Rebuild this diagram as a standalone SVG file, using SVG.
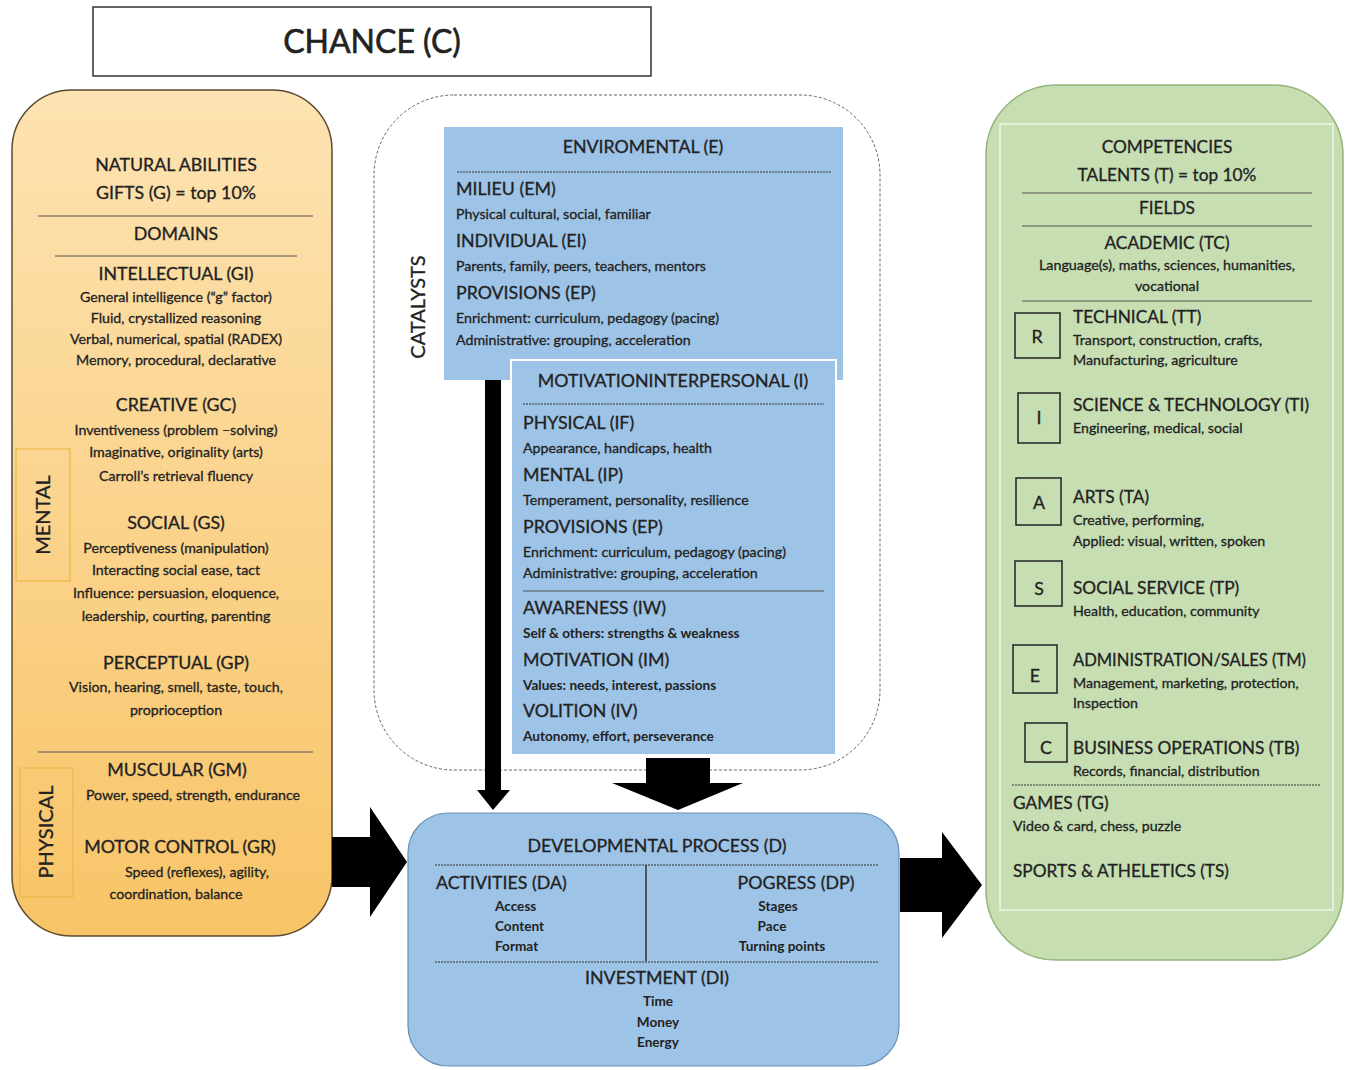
<svg xmlns="http://www.w3.org/2000/svg" width="1348" height="1070" viewBox="0 0 1348 1070">
<defs>
<linearGradient id="gOrange" x1="0" y1="0" x2="0" y2="1">
<stop offset="0" stop-color="#FDE3B2"/>
<stop offset="1" stop-color="#F8C467"/>
</linearGradient>
<style>
text{font-family:Lato,"Open Sans","Liberation Sans",sans-serif;fill:#222;stroke:#222;stroke-width:0.3}
.h{font-size:17.8px}
.hr{font-size:17.3px}
.s{font-size:14.2px}
.xs{font-size:14.2px}
.xb{font-size:13.6px;font-weight:bold;stroke-width:0}
.b{font-weight:bold;stroke-width:0}
.c{text-anchor:middle}
.rule{stroke:#555;stroke-width:1;fill:none}
.dash{stroke:#333;stroke-width:1.2;stroke-dasharray:2 1;fill:none}
.blue{fill:#9DC3E6}
.letter{fill:none;stroke:#222;stroke-width:1.5}
.arrow{fill:#000}
</style>
</defs>
<rect width="1348" height="1070" fill="#fff"/>

<g id="chance">
<rect x="93" y="7" width="558" height="69" fill="#fff" stroke="#333" stroke-width="1.5"/>
<text x="372" y="53" class="c" style="font-size:32px;stroke-width:0.6">CHANCE (C)</text>
</g>

<g id="gifts">
<rect x="12" y="90" width="320" height="846" rx="60" ry="60" fill="url(#gOrange)" stroke="#5a4a30" stroke-width="1.5"/>
<text x="176" y="171" class="h c">NATURAL ABILITIES</text>
<text x="176" y="199" class="h c">GIFTS (G) = top 10%</text>
<line x1="38" y1="216" x2="313" y2="216" class="rule"/>
<text x="176" y="240" class="h c">DOMAINS</text>
<line x1="55" y1="256" x2="297" y2="256" class="rule"/>
<text x="176" y="280" class="h c">INTELLECTUAL (GI)</text>
<text x="176" y="302" class="s c">General intelligence (“g” factor)</text>
<text x="176" y="323" class="s c">Fluid, crystallized reasoning</text>
<text x="176" y="344" class="s c">Verbal, numerical, spatial (RADEX)</text>
<text x="176" y="365" class="s c">Memory, procedural, declarative</text>
<text x="176" y="411" class="h c">CREATIVE (GC)</text>
<text x="176" y="435" class="s c">Inventiveness (problem –solving)</text>
<text x="176" y="457" class="s c">Imaginative, originality (arts)</text>
<text x="176" y="481" class="s c">Carroll’s retrieval fluency</text>
<text x="176" y="529" class="h c">SOCIAL (GS)</text>
<text x="176" y="553" class="s c">Perceptiveness (manipulation)</text>
<text x="176" y="575" class="s c">Interacting social ease, tact</text>
<text x="176" y="598" class="s c">Influence: persuasion, eloquence,</text>
<text x="176" y="621" class="s c">leadership, courting, parenting</text>
<text x="176" y="669" class="h c">PERCEPTUAL (GP)</text>
<text x="176" y="692" class="s c">Vision, hearing, smell, taste, touch,</text>
<text x="176" y="715" class="s c">proprioception</text>
<line x1="38" y1="752" x2="313" y2="752" class="rule"/>
<text x="177" y="776" class="h c">MUSCULAR (GM)</text>
<text x="193" y="800" class="s c">Power, speed, strength, endurance</text>
<text x="180" y="853" class="h c">MOTOR CONTROL (GR)</text>
<text x="197" y="877" class="s c">Speed (reflexes), agility,</text>
<text x="176" y="899" class="s c">coordination, balance</text>
<rect x="16" y="449" width="54" height="132" fill="none" stroke="#E9B949" stroke-width="1.2"/>
<text transform="translate(50,515) rotate(-90)" class="c" style="font-size:20px">MENTAL</text>
<rect x="20" y="768" width="53" height="129" fill="none" stroke="#E9B949" stroke-width="1.2"/>
<text transform="translate(53,832) rotate(-90)" class="c" style="font-size:20px">PHYSICAL</text>
</g>

<g id="catalysts">
<rect x="374" y="95" width="506" height="675" rx="80" ry="80" fill="#fff" stroke="#666" stroke-width="1" stroke-dasharray="3 2"/>
<text transform="translate(425,307) rotate(-90)" class="c" style="font-size:20px">CATALYSTS</text>
</g>

<g id="environmental">
<rect x="444" y="127" width="399" height="253" class="blue"/>
<text x="643" y="153" class="h c">ENVIROMENTAL (E)</text>
<line x1="457" y1="172" x2="831" y2="172" class="dash"/>
<text x="456" y="195" class="h">MILIEU (EM)</text>
<text x="456" y="219" class="xs">Physical cultural, social, familiar</text>
<text x="456" y="247" class="h">INDIVIDUAL (EI)</text>
<text x="456" y="271" class="xs">Parents, family, peers, teachers, mentors</text>
<text x="456" y="299" class="h">PROVISIONS (EP)</text>
<text x="456" y="323" class="xs">Enrichment: curriculum, pedagogy (pacing)</text>
<text x="456" y="345" class="xs">Administrative: grouping, acceleration</text>
</g>

<g id="interpersonal">
<rect x="511" y="360" width="325" height="395" class="blue" stroke="#fff" stroke-width="2"/>
<text x="673" y="387" class="h c">MOTIVATIONINTERPERSONAL (I)</text>
<line x1="523" y1="404" x2="824" y2="404" class="dash"/>
<text x="523" y="429" class="h">PHYSICAL (IF)</text>
<text x="523" y="453" class="xs">Appearance, handicaps, health</text>
<text x="523" y="481" class="h">MENTAL (IP)</text>
<text x="523" y="505" class="xs">Temperament, personality, resilience</text>
<text x="523" y="533" class="h">PROVISIONS (EP)</text>
<text x="523" y="557" class="xs">Enrichment: curriculum, pedagogy (pacing)</text>
<text x="523" y="578" class="xs">Administrative: grouping, acceleration</text>
<line x1="523" y1="591" x2="824" y2="591" class="rule"/>
<text x="523" y="614" class="h">AWARENESS (IW)</text>
<text x="523" y="638" class="xb">Self &amp; others: strengths &amp; weakness</text>
<text x="523" y="666" class="h">MOTIVATION (IM)</text>
<text x="523" y="690" class="xb">Values: needs, interest, passions</text>
<text x="523" y="717" class="h">VOLITION (IV)</text>
<text x="523" y="741" class="xb">Autonomy, effort, perseverance</text>
</g>

<g id="connectors">
<path class="arrow" d="M485,380 H501 V790 H510 L493,810 L477,790 H485 Z"/>
<path class="arrow" d="M646,758 H710 V783 H743 L678,810 L612,783 H646 Z"/>
<path class="arrow" d="M332,837 H370 V807 L407,862 L370,917 V887 H332 Z"/>
<path class="arrow" d="M900,858 H942 V832 L982,885 L942,938 V912 H900 Z"/>
</g>

<g id="developmental">
<rect x="408" y="813" width="491" height="253" rx="40" ry="40" class="blue" stroke="#6a8fb8" stroke-width="1.2"/>
<text x="657" y="852" class="h c">DEVELOPMENTAL PROCESS (D)</text>
<line x1="435" y1="865" x2="879" y2="865" class="dash"/>
<line x1="646" y1="865" x2="646" y2="961" stroke="#333" stroke-width="1.5"/>
<text x="436" y="889" class="h">ACTIVITIES (DA)</text>
<text x="495" y="911" class="xb">Access</text>
<text x="495" y="931" class="xb">Content</text>
<text x="495" y="951" class="xb">Format</text>
<text x="796" y="889" class="h c">POGRESS (DP)</text>
<text x="778" y="911" class="xb c">Stages</text>
<text x="772" y="931" class="xb c">Pace</text>
<text x="782" y="951" class="xb c">Turning points</text>
<line x1="435" y1="962" x2="879" y2="962" class="dash"/>
<text x="657" y="984" class="h c">INVESTMENT (DI)</text>
<text x="658" y="1006" class="xb c">Time</text>
<text x="658" y="1027" class="xb c">Money</text>
<text x="658" y="1047" class="xb c">Energy</text>
</g>

<g id="talents">
<rect x="986" y="85" width="357" height="875" rx="70" ry="70" fill="#C6DEB2" stroke="#93B57A" stroke-width="1.5"/>
<rect x="1000" y="124" width="333" height="786" fill="none" stroke="#EEF5E8" stroke-width="1.5"/>
<text x="1167" y="153" class="hr c">COMPETENCIES</text>
<text x="1167" y="181" class="hr c">TALENTS (T) = top 10%</text>
<line x1="1022" y1="193" x2="1312" y2="193" class="rule"/>
<text x="1167" y="214" class="hr c">FIELDS</text>
<line x1="1022" y1="226" x2="1312" y2="226" class="rule"/>
<text x="1167" y="249" class="hr c">ACADEMIC (TC)</text>
<text x="1167" y="270" class="xs c" textLength="256" lengthAdjust="spacingAndGlyphs">Language(s), maths, sciences, humanities,</text>
<text x="1167" y="291" class="xs c">vocational</text>
<line x1="1022" y1="301" x2="1312" y2="301" class="rule"/>

<rect x="1015" y="313" width="45" height="45" class="letter"/>
<text x="1037" y="343" class="h c">R</text>
<text x="1073" y="323" class="hr">TECHNICAL (TT)</text>
<text x="1073" y="345" class="xs">Transport, construction, crafts,</text>
<text x="1073" y="365" class="xs">Manufacturing, agriculture</text>

<rect x="1018" y="393" width="42" height="50" class="letter"/>
<text x="1039" y="424" class="h c">I</text>
<text x="1073" y="411" class="hr">SCIENCE &amp; TECHNOLOGY (TI)</text>
<text x="1073" y="433" class="xs">Engineering, medical, social</text>

<rect x="1016" y="478" width="45" height="47" class="letter"/>
<text x="1039" y="509" class="h c">A</text>
<text x="1073" y="503" class="hr">ARTS (TA)</text>
<text x="1073" y="525" class="xs">Creative, performing,</text>
<text x="1073" y="546" class="xs">Applied: visual, written, spoken</text>

<rect x="1015" y="561" width="47" height="45" class="letter"/>
<text x="1039" y="595" class="h c">S</text>
<text x="1073" y="594" class="hr">SOCIAL SERVICE (TP)</text>
<text x="1073" y="616" class="xs">Health, education, community</text>

<rect x="1013" y="645" width="44" height="48" class="letter"/>
<text x="1035" y="682" class="h c">E</text>
<text x="1073" y="666" class="hr" textLength="233" lengthAdjust="spacingAndGlyphs">ADMINISTRATION/SALES (TM)</text>
<text x="1073" y="688" class="xs">Management, marketing, protection,</text>
<text x="1073" y="708" class="xs">Inspection</text>

<rect x="1025" y="723" width="42" height="39" class="letter"/>
<text x="1046" y="754" class="h c">C</text>
<text x="1073" y="754" class="hr">BUSINESS OPERATIONS (TB)</text>
<text x="1073" y="776" class="xs">Records, financial, distribution</text>
<line x1="1012" y1="785" x2="1320" y2="785" class="dash"/>
<text x="1013" y="809" class="hr">GAMES (TG)</text>
<text x="1013" y="831" class="xs">Video &amp; card, chess, puzzle</text>
<text x="1013" y="877" class="hr">SPORTS &amp; ATHELETICS (TS)</text>
</g>
</svg>
